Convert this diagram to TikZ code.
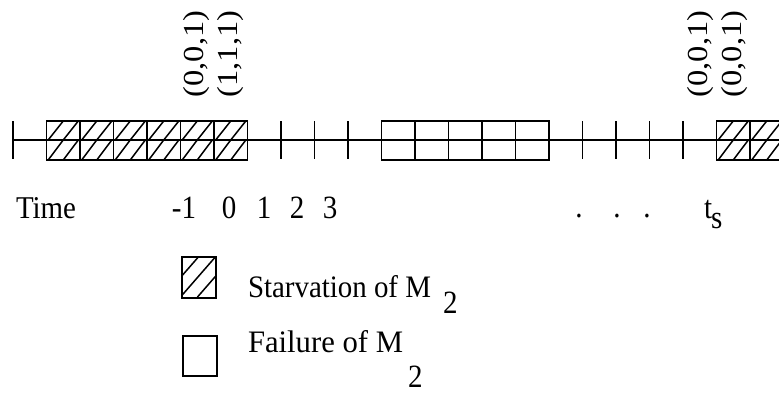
\documentclass[tikz,border=0pt]{standalone}
\usepackage{fontspec}
\setmainfont{Liberation Serif}
\usepackage{graphicx}
\newcommand{\vst}[1]{\scalebox{1}[1.12]{#1}}
\newcommand{\vrot}[1]{\scalebox{1}[1.12]{\rotatebox{90}{#1}}}
\begin{document}
\begin{tikzpicture}[x=1pt,y=-1pt,
  lbl/.style={inner sep=0pt, outer sep=0pt, font=\fontsize{29}{35}\selectfont},
  bar/.style={line width=1.7pt},
  hatch/.style={line width=1.5pt},
  tickmark/.style={line width=1.7pt}]
\useasboundingbox (0,0) rectangle (779,396);
\clip (0,0) rectangle (779,396);
\def\w{33.5}
% timeline axis
\coordinate (L) at (13,140);
\coordinate (R) at (790,140);
% hatching of starvation cells
\foreach \k in {1,2,3,4,5,6,21,22} {
  \pgfmathsetmacro\xa{13+\k*\w}
  \draw[hatch] (\xa+0.05*\w,140) -- (\xa+0.5*\w,121)
               (\xa+0.5*\w,140) -- (\xa+0.95*\w,121)
               (\xa+0.05*\w,160) -- (\xa+0.5*\w,140)
               (\xa+0.5*\w,160) -- (\xa+0.95*\w,140);
}
\draw[bar] (L) -- (R);
% ticks
\foreach \k in {0,8,9,10,17,18,19,20}
  \draw[tickmark] ({13+\k*\w},121) -- ({13+\k*\w},159);
% box frames
\draw[bar] ({13+1*\w},121) rectangle ({13+7*\w},160);
\foreach \k in {2,...,6} \draw[bar] ({13+\k*\w},121) -- ({13+\k*\w},160);
\draw[bar] ({13+11*\w},121) rectangle ({13+16*\w},160);
\foreach \k in {12,...,15} \draw[bar] ({13+\k*\w},121) -- ({13+\k*\w},160);
\draw[bar] ({13+21*\w},121) rectangle ({13+23*\w},160);
\draw[bar] ({13+22*\w},121) -- ({13+22*\w},160);
% state labels
\node[lbl] (sa) at (197,54) {\vrot{(0,0,1)}};
\node[lbl] (sb) at (231,54) {\vrot{(1,1,1)}};
\node[lbl] (sc) at (701,54) {\vrot{(0,0,1)}};
\node[lbl] (sd) at (735,54) {\vrot{(0,0,1)}};
% time labels
\node[lbl,anchor=base west] (time) at (16,218) {\resizebox{60pt}{21pt}{Time}};
\node[lbl,anchor=base] (tm1) at (184,218) {\vst{-1}};
\node[lbl,anchor=base] (t0) at (229,218) {\vst{0}};
\node[lbl,anchor=base] (t1) at (264,218) {\vst{1}};
\node[lbl,anchor=base] (t2) at (297,218) {\vst{2}};
\node[lbl,anchor=base] (t3) at (330,218) {\vst{3}};
\node[lbl,anchor=base] (d1) at (579,217) {\vst{.}};
\node[lbl,anchor=base] (d2) at (617,217) {\vst{.}};
\node[lbl,anchor=base] (d3) at (647,217) {\vst{.}};
\node[lbl,anchor=base west] (tt) at (704,218) {\vst{t}};
\node[lbl,anchor=base west] (ts) at (711,228) {\vst{s}};
% legend
\node[draw, line width=1.6pt, minimum width=34pt, minimum height=41pt, inner sep=0pt, anchor=north west] (lgS) at (181,256) {};
\begin{scope}
  \clip (lgS.north west) rectangle (lgS.south east);
  \foreach \b in {163.5,180.5,197.5}
    \draw[hatch] (\b,297) -- (\b+35.7,256);
\end{scope}
\node[draw, line width=1.6pt, minimum width=34pt, minimum height=40pt, inner sep=0pt, anchor=north west] (lgF) at (182,335) {};
\node[lbl,anchor=base west] (starv) at (248,297) {\resizebox{183pt}{22pt}{Starvation of M}};
\node[lbl,anchor=base west] (starv2) at (443,313) {\vst{2}};
\node[lbl,anchor=base west] (fail) at (248,352) {\resizebox{155pt}{22pt}{Failure of M}};
\node[lbl,anchor=base west] (fail2) at (408,387) {\vst{2}};
\end{tikzpicture}
\end{document}
